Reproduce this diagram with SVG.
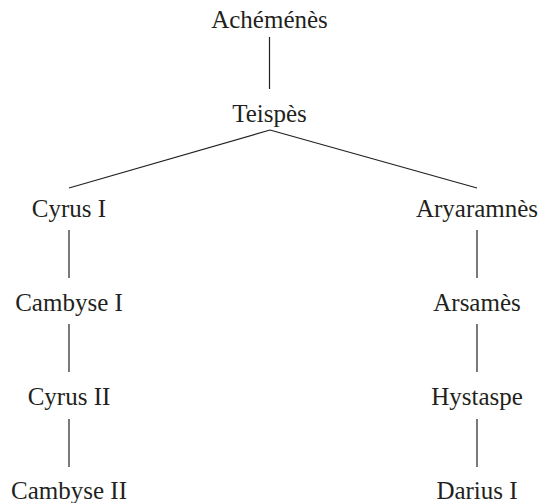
<svg xmlns="http://www.w3.org/2000/svg" width="541" height="503" viewBox="0 0 541 503">
<style>
text{font-family:"Liberation Serif","Times New Roman",serif;font-size:25px;fill:#231f20;text-anchor:middle}
line{stroke:#231f20;stroke-width:1.2}
</style>
<rect width="541" height="503" fill="#fff"/>
<g id="connectors">
<line x1="269.5" y1="37" x2="269.5" y2="89"/>
<line x1="270" y1="130" x2="69" y2="188"/>
<line x1="270" y1="130" x2="477" y2="188"/>
<line x1="69" y1="230" x2="69" y2="278"/>
<line x1="69" y1="324" x2="69" y2="372"/>
<line x1="69" y1="419" x2="69" y2="467"/>
<line x1="477" y1="230" x2="477" y2="278"/>
<line x1="477" y1="324" x2="477" y2="372"/>
<line x1="477" y1="419" x2="477" y2="467"/>
</g>
<g id="achemenes"><text x="269.5" y="27.5">Achéménès</text></g>
<g id="teispes"><text x="269.5" y="122">Teispès</text></g>
<g id="cyrus1"><text x="69" y="217">Cyrus I</text></g>
<g id="cambyse1"><text x="69" y="311">Cambyse I</text></g>
<g id="cyrus2"><text x="69" y="405">Cyrus II</text></g>
<g id="cambyse2"><text x="69" y="499">Cambyse II</text></g>
<g id="aryaramnes"><text x="477" y="217">Aryaramnès</text></g>
<g id="arsames"><text x="477" y="311">Arsamès</text></g>
<g id="hystaspe"><text x="477" y="405">Hystaspe</text></g>
<g id="darius1"><text x="477" y="499">Darius I</text></g>
</svg>
